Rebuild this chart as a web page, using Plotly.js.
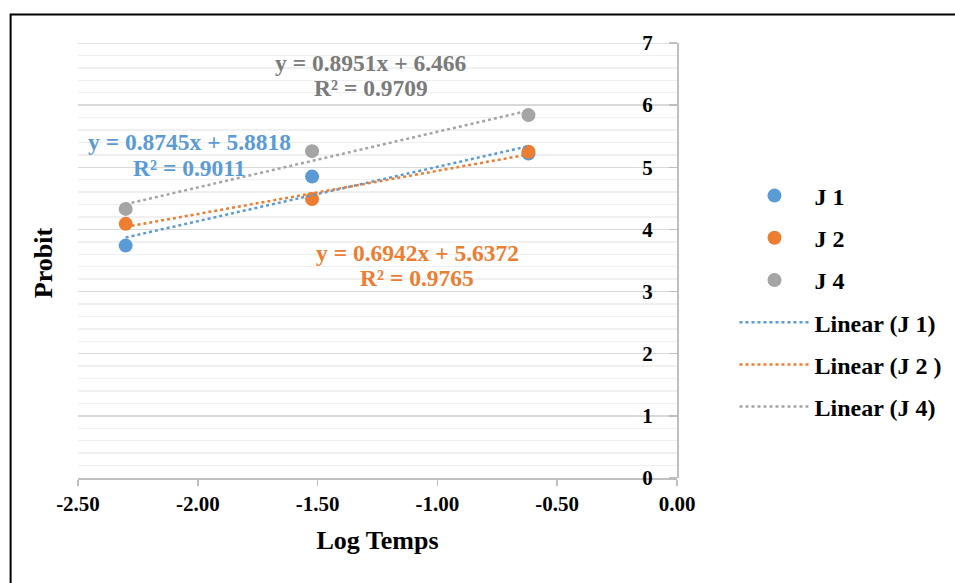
<!DOCTYPE html>
<html>
<head>
<meta charset="utf-8">
<script src="https://cdn.plot.ly/plotly-3.0.1.min.js"></script>
<style>
html,body{margin:0;padding:0;background:#fff;}
#chart{width:955px;height:583px;}
</style>
</head>
<body>
<div id="chart"></div>
<script>
// Data
const logTemps = [-2.301, -1.523, -0.62];
const probitJ1 = [3.74, 4.85, 5.22];
const probitJ2 = [4.09, 4.49, 5.25];
const probitJ4 = [4.33, 5.26, 5.84];

// Trendline coefficients shown on the chart
const slopes = [0.8745, 0.6942, 0.8951];
const intercepts = [5.8818, 5.6372, 6.466];
const eqLabels = ["y = 0.8745x + 5.8818", "y = 0.6942x + 5.6372", "y = 0.8951x + 6.466"];
const r2Labels = ["R² = 0.9011", "R² = 0.9765", "R² = 0.9709"];

const seriesNames = ["J 1", "J 2", "J 4"];
const lineNames = ["Linear (J 1)", "Linear (J 2 )", "Linear (J 4)"];
const colors = ["#5b9bd5", "#ed7d31", "#a5a5a5"];
const labelColors = ["#5b9bd5", "#ed7d31", "#7b7b7b"];

const xTickVals = [-2.5, -2.0, -1.5, -1.0, -0.5, 0.0];
const xTickText = ["-2.50", "-2.00", "-1.50", "-1.00", "-0.50", "0.00"];
const yTickVals = [0, 1, 2, 3, 4, 5, 6, 7];
const yMax = 7;

const FONT = "Liberation Serif, Times New Roman, serif";
const ys = [probitJ1, probitJ2, probitJ4];

const traces = [];
ys.forEach((y, i) => {
  traces.push({
    x: logTemps, y: y, type: "scatter", mode: "markers",
    name: seriesNames[i], legendgroup: "m" + i,
    marker: {color: colors[i], size: 14},
    cliponaxis: false
  });
});
ys.forEach((y, i) => {
  const xs = [Math.min(...logTemps), Math.max(...logTemps)];
  traces.push({
    x: xs, y: xs.map(v => slopes[i] * v + intercepts[i]),
    type: "scatter", mode: "lines",
    name: lineNames[i], legendgroup: "l" + i,
    line: {color: colors[i], width: 2.5, dash: "dot"}
  });
});

// label positions (data coordinates): [x, yEquation, yR2]
const eqPos = [[-2.035, 5.407, 4.989], [-1.085, 3.621, 3.219], [-1.279, 6.679, 6.276]];
const annotations = [];
eqPos.forEach((p, i) => {
  const f = {family: FONT, size: 23.5, color: labelColors[i], weight: "bold"};
  annotations.push({x: p[0], y: p[1], xref: "x", yref: "y", showarrow: false,
    text: eqLabels[i], xanchor: "center", yanchor: "middle", font: f});
  annotations.push({x: p[0], y: p[2], xref: "x", yref: "y", showarrow: false,
    text: r2Labels[i], xanchor: "center", yanchor: "middle", font: f});
});
annotations.push({
  x: -0.0575, y: 0.495, xref: "paper", yref: "paper", showarrow: false,
  text: "Probit", textangle: -90, xanchor: "center", yanchor: "middle",
  font: {family: FONT, size: 26, color: "#000", weight: "bold"}
});

const layout = {
  width: 955, height: 583,
  margin: {l: 77.5, r: 277.5, t: 43, b: 105},
  paper_bgcolor: "#fff", plot_bgcolor: "#fff",
  font: {family: FONT, color: "#000", weight: "bold"},
  showlegend: true,
  legend: {
    xref: "container", x: 0.7691, y: 0.70, xanchor: "left", yanchor: "top",
    font: {family: FONT, size: 24, color: "#000", weight: "bold"},
    itemwidth: 70, tracegroupgap: 8, traceorder: "grouped",
    bgcolor: "rgba(0,0,0,0)"
  },
  xaxis: {
    range: [-2.5, 0], tickvals: xTickVals, ticktext: xTickText,
    showgrid: false, zeroline: false,
    showline: true, linecolor: "#bfbfbf", linewidth: 1.5,
    ticks: "outside", ticklen: 6, tickcolor: "#bfbfbf", tickwidth: 1.5,
    tickfont: {family: FONT, size: 21, color: "#000", weight: "bold"},
    title: {text: "Log Temps", font: {family: FONT, size: 26, color: "#000", weight: "bold"}, standoff: 16}
  },
  yaxis: {
    range: [0, yMax], tickvals: yTickVals,
    side: "left", anchor: "free", position: 1,
    showgrid: true, gridcolor: "#d9d9d9", gridwidth: 1.5,
    minor: {dtick: 0.2, showgrid: true, gridcolor: "#f0f0f0", gridwidth: 1.5},
    zeroline: false,
    showline: true, linecolor: "#bfbfbf", linewidth: 1.5,
    ticks: "outside", ticklen: 8, tickcolor: "#bfbfbf", tickwidth: 1.5,
    ticklabelstandoff: 12,
    tickfont: {family: FONT, size: 21, color: "#000", weight: "bold"}
  },
  annotations: annotations,
  shapes: [
    {
      type: "line", xref: "paper", yref: "y", x0: 0, x1: 1, y0: yMax, y1: yMax,
      line: {color: "#d9d9d9", width: 1.5}, layer: "below"
    },
    {
      type: "rect", xref: "paper", yref: "paper",
      x0: -0.1125, x1: 1.6, y0: -0.4, y1: 1.0655,
      line: {color: "#000", width: 2}, fillcolor: "rgba(0,0,0,0)", layer: "below"
    }
  ]
};

Plotly.newPlot("chart", traces, layout, {displayModeBar: false, staticPlot: true});
</script>
</body>
</html>
